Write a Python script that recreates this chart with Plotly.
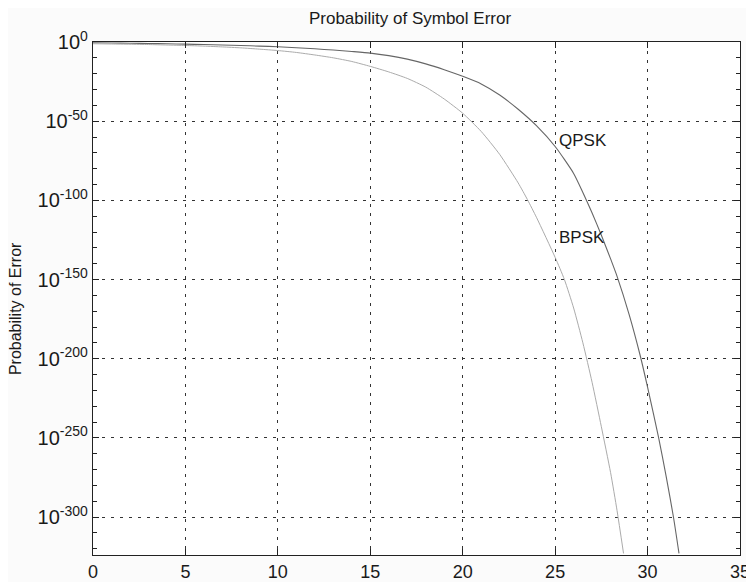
import plotly.graph_objects as go

# Eb/N0 (dB) and log10 of probability of error
qpsk_x = [0, 1, 2, 3, 4, 5, 6, 7, 8, 9, 10, 11, 12, 13, 14, 15, 16, 17, 18, 19, 20,
          21, 22, 23, 24, 25, 26, 26.5, 27, 27.5, 28, 28.35, 29, 29.6, 30, 30.6, 31, 31.4, 31.7]
qpsk_log = [-0.5, -0.6, -0.8, -0.95, -1.1, -1.35, -1.6, -1.9, -2.2, -2.6, -3.0, -3.6, -4.3, -5.1, -6.0, -7.0, -8.6, -10.8, -13.8, -17.5, -21.7,
            -26.5, -33.5, -42.5, -53.0, -66.0, -83.0, -95.0, -108.0, -122.0, -137.0, -148.0, -172.0, -198.0, -218.0, -250.0, -274.0, -300.0, -323.0]

bpsk_x = [0, 1, 2, 3, 4, 5, 6, 7, 8, 9, 10, 11, 12, 13, 14, 15, 16, 17, 18, 19, 20,
          21, 22, 23, 23.5, 24, 25, 25.5, 26, 26.5, 27, 27.5, 28, 28.35, 28.7]
bpsk_log = [-1.1, -1.25, -1.4, -1.6, -1.9, -2.2, -2.6, -3.1, -3.7, -4.5, -5.4, -6.6, -8.2, -10.0, -12.3, -15.4, -18.9, -23.0, -28.5, -36.0, -45.0,
            -56.5, -71.0, -89.0, -99.5, -111.0, -136.0, -150.0, -168.0, -190.0, -215.0, -243.0, -272.0, -296.0, -323.0]

x_ticks = [0, 5, 10, 15, 20, 25, 30, 35]
y_ticks = [0, -50, -100, -150, -200, -250, -300]
y_tick_labels = ["10<sup>%d</sup>" % v for v in y_ticks]

title_text = "Probability of Symbol Error"
ylabel_text = "Probability of Error"

fig = go.Figure()
fig.add_trace(go.Scatter(x=qpsk_x, y=qpsk_log, mode="lines", name="QPSK",
                         line=dict(color="#666666", width=1.1, shape="spline", smoothing=0.6)))
fig.add_trace(go.Scatter(x=bpsk_x, y=bpsk_log, mode="lines", name="BPSK",
                         line=dict(color="#ababab", width=1.0, shape="spline", smoothing=0.6)))

font_family = "Liberation Sans, Arial, sans-serif"

fig.add_annotation(x=25.1, y=-62, text="QPSK", showarrow=False, xanchor="left",
                   yanchor="middle", font=dict(size=17, color="#1a1a1a", family=font_family))
fig.add_annotation(x=25.1, y=-123.5, text="BPSK", showarrow=False, xanchor="left",
                   yanchor="middle", font=dict(size=17, color="#1a1a1a", family=font_family))
fig.add_annotation(xref="paper", yref="paper", x=-0.12, y=0.48, text=ylabel_text,
                   textangle=-90, showarrow=False, xanchor="center", yanchor="middle",
                   font=dict(size=16, color="#1a1a1a", family=font_family))

# the page adds an 8px body margin, so the figure is sized to fit the window
fig.update_layout(
    width=746, height=574,
    margin=dict(l=85, r=14, t=34, b=27, autoexpand=False),
    paper_bgcolor="#fbfbfb", plot_bgcolor="#ffffff",
    showlegend=False,
    font=dict(family=font_family, color="#1a1a1a", size=17),
    title=dict(text=title_text, x=0.49, xref="paper", xanchor="center",
               y=1 - 10 / 574, yanchor="middle", font=dict(size=17)),
)
fig.update_xaxes(
    range=[0, 35], tickvals=x_ticks, ticks="inside", ticklen=6, tickcolor="#222",
    showline=True, linecolor="#222", linewidth=1.2, mirror="ticks",
    showgrid=True, gridcolor="#333", gridwidth=1, griddash="3px,6px",
    zeroline=False, tickfont=dict(size=18), automargin=False,
)
fig.update_yaxes(
    range=[-324, 0], tickvals=y_ticks, ticktext=y_tick_labels, ticks="inside",
    ticklen=6, tickcolor="#222",
    showline=True, linecolor="#222", linewidth=1.2, mirror="ticks",
    showgrid=True, gridcolor="#333", gridwidth=1, griddash="3px,6px",
    zeroline=False, tickfont=dict(size=20), automargin=False,
    minor=dict(dtick=10, tick0=0, ticks="inside", ticklen=4, tickcolor="#222", showgrid=False),
)

fig.write_html("out.html")
